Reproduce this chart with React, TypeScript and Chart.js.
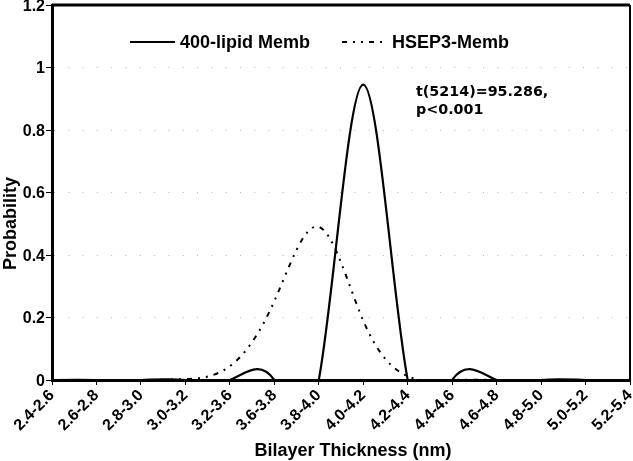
import React, { useEffect, useRef } from 'react';
import { Chart, registerables } from 'chart.js';

Chart.register(...registerables);

const categories = ['2.4-2.6', '2.6-2.8', '2.8-3.0', '3.0-3.2', '3.2-3.6', '3.6-3.8', '3.8-4.0', '4.0-4.2', '4.2-4.4', '4.4-4.6', '4.6-4.8', '4.8-5.0', '5.0-5.2', '5.2-5.4'];
const lipid400Memb = [0, 0, 0, 0, 0, 0, 0, 0.945, 0, 0, 0, 0, 0, 0];
const hsep3Memb = [0, 0, 0, 0.003, 0.044, 0.252, 0.49, 0.19, 0.012, 0, 0, 0, 0, 0];
const seriesNames = ['400-lipid Memb', 'HSEP3-Memb'];
const yMin = 0;
const yMax = 1.2;
const yStep = 0.2;
const xTitle = 'Bilayer Thickness (nm)';
const yTitle = 'Probability';
const statLines = ['t(5214)=95.286,', 'p<0.001'];

const NOTE_FONT = "'DejaVu Sans', sans-serif";
const MAIN_FONT = "'Liberation Sans', Arial, sans-serif";

// Natural cubic spline (like the source program's "cubic spline" smoothing),
// computed from the point positions that Chart.js derived from the scales.
const naturalSpline = {
  id: 'naturalSpline',
  beforeDatasetDraw(chart: any, args: any) {
    const meta = args.meta;
    const line = meta.dataset;
    if (!line) return;
    line.updateControlPoints(chart.chartArea, meta.iScale.axis);
    const pts = meta.data;
    const n = pts.length;
    if (n < 3) return;
    const xs = pts.map((p: any) => p.x);
    const ys = pts.map((p: any) => p.y);
    const h: number[] = [];
    const d: number[] = [];
    for (let i = 0; i < n - 1; i++) {
      h[i] = xs[i + 1] - xs[i];
      d[i] = (ys[i + 1] - ys[i]) / h[i];
    }
    const a = new Array(n).fill(0);
    const b = new Array(n).fill(0);
    const c = new Array(n).fill(0);
    const r = new Array(n).fill(0);
    b[0] = 2; c[0] = 1; r[0] = 3 * d[0];
    for (let i = 1; i < n - 1; i++) {
      a[i] = h[i];
      b[i] = 2 * (h[i - 1] + h[i]);
      c[i] = h[i - 1];
      r[i] = 3 * (h[i] * d[i - 1] + h[i - 1] * d[i]);
    }
    a[n - 1] = 1; b[n - 1] = 2; r[n - 1] = 3 * d[n - 2];
    for (let i = 1; i < n; i++) {
      const w = a[i] / b[i - 1];
      b[i] -= w * c[i - 1];
      r[i] -= w * r[i - 1];
    }
    const m = new Array(n).fill(0);
    m[n - 1] = r[n - 1] / b[n - 1];
    for (let i = n - 2; i >= 0; i--) m[i] = (r[i] - c[i] * m[i + 1]) / b[i];
    for (let i = 0; i < n; i++) {
      const p = pts[i];
      const hp = i > 0 ? h[i - 1] : 0;
      const hn = i < n - 1 ? h[i] : 0;
      p.cp1x = xs[i] - hp / 3;
      p.cp1y = ys[i] - (m[i] * hp) / 3;
      p.cp2x = xs[i] + hn / 3;
      p.cp2y = ys[i] + (m[i] * hn) / 3;
    }
    line._path = undefined;
  },
};

const decorations = {
  id: 'decorations',
  afterDraw(chart: any) {
    const { ctx, chartArea: ca } = chart;
    ctx.save();
    // frame: top and right
    ctx.strokeStyle = '#000';
    ctx.setLineDash([]);
    ctx.lineWidth = 3;
    ctx.beginPath();
    ctx.moveTo(ca.left, ca.top);
    ctx.lineTo(ca.right, ca.top);
    ctx.stroke();
    ctx.lineWidth = 2;
    ctx.beginPath();
    ctx.moveTo(ca.right, ca.top);
    ctx.lineTo(ca.right, ca.bottom);
    ctx.stroke();

    // legend
    const ds = chart.data.datasets;
    ctx.font = `bold 18px ${MAIN_FONT}`;
    ctx.fillStyle = '#000';
    ctx.textBaseline = 'middle';
    ctx.textAlign = 'left';
    const ly = ca.top + 37;
    let x = ca.left + 78;
    ds.forEach((d: any) => {
      ctx.save();
      ctx.strokeStyle = d.borderColor;
      ctx.lineWidth = d.borderWidth;
      ctx.setLineDash(d.borderDash || []);
      ctx.beginPath();
      ctx.moveTo(x, ly);
      ctx.lineTo(x + 45, ly);
      ctx.stroke();
      ctx.restore();
      ctx.fillText(d.label, x + 50, ly + 1);
      x = x + 50 + ctx.measureText(d.label).width + 32;
    });

    // statistics annotation
    ctx.font = `bold 14.3px ${NOTE_FONT}`;
    ctx.textBaseline = 'alphabetic';
    statLines.forEach((t, i) => ctx.fillText(t, ca.left + 364, ca.top + 91 + i * 18));

    // axis titles
    ctx.font = `bold 18px ${MAIN_FONT}`;
    ctx.textAlign = 'center';
    ctx.fillText(xTitle, (ca.left + ca.right) / 2 + 12, 456);
    ctx.save();
    ctx.translate(16, (ca.top + ca.bottom) / 2 + 31);
    ctx.rotate(-Math.PI / 2);
    ctx.fillText(yTitle, 0, 0);
    ctx.restore();
    ctx.restore();
  },
};

export default function App() {
  const ref = useRef<HTMLCanvasElement | null>(null);
  useEffect(() => {
    if (!ref.current) return;
    const chart = new Chart(ref.current, {
      type: 'line',
      data: {
        labels: categories,
        datasets: [
          {
            label: seriesNames[0],
            data: lipid400Memb,
            borderColor: '#000',
            borderWidth: 2.2,
            pointRadius: 0,
            tension: 0.4,
            fill: false,
          },
          {
            label: seriesNames[1],
            data: hsep3Memb,
            borderColor: '#000',
            borderWidth: 2,
            borderDash: [5, 6, 2, 6, 2, 6],
            pointRadius: 0,
            tension: 0.4,
            fill: false,
          },
        ],
      },
      options: {
        animation: false,
        responsive: true,
        maintainAspectRatio: false,
        layout: { padding: { top: 5, right: 3, left: 0, bottom: 0 } },
        plugins: { legend: { display: false }, tooltip: { enabled: false }, title: { display: false } },
        scales: {
          x: {
            type: 'category',
            offset: false,
            afterFit: (s: any) => { s.height = 81; s.paddingLeft = 0; s.paddingRight = 0; },
            grid: { display: true, drawOnChartArea: false, drawTicks: true, tickLength: 5, tickColor: '#000', tickWidth: 1 },
            border: { display: true, color: '#000', width: 3 },
            ticks: {
              autoSkip: false,
              maxRotation: 45,
              minRotation: 45,
              padding: 1,
              color: '#000',
              font: { family: MAIN_FONT, weight: 'bold', size: 16 },
            },
          },
          y: {
            min: yMin,
            max: yMax,
            afterFit: (s: any) => { s.width = 52; s.paddingTop = 0; s.paddingBottom = 0; },
            grid: { display: true, drawOnChartArea: true, color: '#b8b8b8', lineWidth: 1, drawTicks: true, tickLength: 6, tickColor: '#000', tickWidth: 1 },
            border: { display: true, color: '#000', width: 3, dash: [1, 13.3] },
            ticks: {
              stepSize: yStep,
              padding: 1,
              labelOffset: 1.5,
              color: '#000',
              font: { family: MAIN_FONT, weight: 'bold', size: 16 },
              callback: (v: any) => String(Number(Number(v).toFixed(1))),
            },
          },
        },
      },
      plugins: [naturalSpline, decorations],
    } as any);
    return () => chart.destroy();
  }, []);
  return (
    <div style={{ position: 'absolute', left: 0, top: 0, width: 633, height: 461, background: '#fff' }}>
      <canvas ref={ref} />
    </div>
  );
}
